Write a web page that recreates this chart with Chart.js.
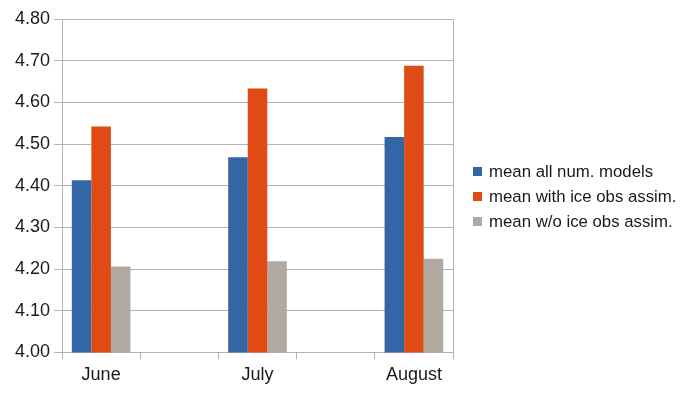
<!DOCTYPE html>
<html>
<head>
<meta charset="utf-8">
<script src="https://cdn.jsdelivr.net/npm/chart.js@4/dist/chart.umd.min.js"></script>
<style>
  html, body { margin: 0; padding: 0; background: #fff; }
  #wrap { width: 700px; height: 393px; }
</style>
</head>
<body>
<div id="wrap"><canvas id="iceChart" width="700" height="393"></canvas></div>
<script>
// months, with blank slots between them like the original sheet
const months = ["June", "", "July", "", "August"];
const seriesNames = ["mean all num. models", "mean with ice obs assim.", "mean w/o ice obs assim."];
const meanAll = [4.413, null, 4.468, null, 4.517];
const meanWithIce = [4.542, null, 4.633, null, 4.688];
const meanWithoutIce = [4.206, null, 4.219, null, 4.225];
const colors = ["#3465a4", "#e04a15", "#b2aaa1"];

const gridColor = "#b3b3b3";
const font = "'Liberation Sans', Arial, sans-serif";

// legend on the right, drawn next to the plot (built-in one gets squeezed)
const sideLegend = {
  id: "sideLegend",
  afterDraw(chart) {
    const c = chart.ctx;
    const items = chart.data.datasets;
    const rowH = 25;
    const x = chart.chartArea.right + 20;
    let y = chart.height / 2 - rowH * (items.length - 1) / 2;
    c.save();
    c.font = "16.8px " + font;
    c.textBaseline = "middle";
    c.textAlign = "left";
    items.forEach((ds) => {
      c.fillStyle = ds.backgroundColor;
      c.fillRect(x, y - 4.5, 9, 9);
      c.fillStyle = "#1a1a1a";
      c.fillText(ds.label, x + 16, y + 1);
      y += rowH;
    });
    c.restore();
  },
};

const ctx = document.getElementById("iceChart").getContext("2d");
const iceChart = new Chart(ctx, {
  type: "bar",
  data: {
    labels: months,
    datasets: [meanAll, meanWithIce, meanWithoutIce].map((vals, i) => ({
      label: seriesNames[i],
      data: vals,
      backgroundColor: colors[i],
      borderWidth: 0,
      categoryPercentage: 0.75,
      barPercentage: 1.0,
    })),
  },
  options: {
    responsive: false,
    animation: false,
    layout: { padding: { top: 19, left: 11, bottom: 2, right: 247 } },
    scales: {
      x: {
        grid: {
          offset: true,
          color: (c) => (c.type !== "tick" || c.index === 0 ? gridColor : "rgba(0,0,0,0)"),
          tickColor: gridColor,
          tickLength: 7,
        },
        border: { color: gridColor },
        ticks: { color: "#1a1a1a", font: { family: font, size: 18 }, padding: 5, maxRotation: 0 },
      },
      y: {
        min: 4.0,
        max: 4.8,
        ticks: {
          stepSize: 0.1,
          color: "#1a1a1a",
          font: { family: font, size: 18 },
          padding: 4,
          callback: (v) => v.toFixed(2),
        },
        grid: { color: gridColor, tickLength: 8 },
        border: { color: gridColor },
      },
    },
    plugins: {
      legend: { display: false },
      tooltip: { enabled: false },
    },
  },
  plugins: [sideLegend],
});
</script>
</body>
</html>
